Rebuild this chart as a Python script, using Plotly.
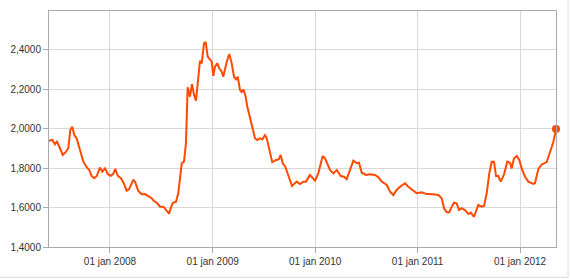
import pandas as pd
import plotly.graph_objects as go

# time as decimal years, values of the series
years = [2007.405, 2007.437, 2007.463, 2007.483, 2007.512, 2007.539, 2007.571, 2007.593, 2007.613, 2007.632,
         2007.652, 2007.675, 2007.707, 2007.740, 2007.773, 2007.798, 2007.821, 2007.847, 2007.870, 2007.902,
         2007.925, 2007.951, 2007.978, 2008.007, 2008.032, 2008.052, 2008.075, 2008.107, 2008.134, 2008.163,
         2008.185, 2008.227, 2008.244, 2008.276, 2008.309, 2008.341, 2008.374, 2008.407, 2008.426, 2008.456,
         2008.488, 2008.520, 2008.553, 2008.576, 2008.600, 2008.615, 2008.644, 2008.666, 2008.700, 2008.722,
         2008.741, 2008.758, 2008.780, 2008.800, 2008.820, 2008.839, 2008.878, 2008.895, 2008.917, 2008.934,
         2008.953, 2008.976, 2008.992, 2009.008, 2009.024, 2009.047, 2009.066, 2009.090, 2009.105, 2009.139,
         2009.164, 2009.187, 2009.210, 2009.229, 2009.246, 2009.268, 2009.285, 2009.300, 2009.320, 2009.340,
         2009.366, 2009.388, 2009.415, 2009.437, 2009.463, 2009.486, 2009.512, 2009.529, 2009.551, 2009.568,
         2009.583, 2009.620, 2009.646, 2009.665, 2009.685, 2009.710, 2009.740, 2009.776, 2009.821, 2009.854,
         2009.886, 2009.912, 2009.951, 2010.000, 2010.032, 2010.075, 2010.098, 2010.146, 2010.179, 2010.212,
         2010.251, 2010.283, 2010.309, 2010.341, 2010.374, 2010.407, 2010.429, 2010.456, 2010.498, 2010.537,
         2010.585, 2010.618, 2010.651, 2010.700, 2010.732, 2010.764, 2010.797, 2010.829, 2010.878, 2010.910,
         2010.959, 2010.992, 2011.041, 2011.090, 2011.154, 2011.203, 2011.236, 2011.259, 2011.285, 2011.310,
         2011.334, 2011.356, 2011.382, 2011.405, 2011.431, 2011.463, 2011.496, 2011.519, 2011.551, 2011.578,
         2011.593, 2011.626, 2011.649, 2011.675, 2011.700, 2011.724, 2011.746, 2011.766, 2011.788, 2011.812,
         2011.844, 2011.876, 2011.902, 2011.919, 2011.941, 2011.968, 2011.993, 2012.016, 2012.049, 2012.081,
         2012.130, 2012.146, 2012.179, 2012.212, 2012.260, 2012.293, 2012.325, 2012.351]

values = [1.938, 1.942, 1.920, 1.933, 1.900, 1.866, 1.883, 1.900, 1.992, 2.009,
          1.967, 1.950, 1.891, 1.832, 1.804, 1.790, 1.759, 1.748, 1.759, 1.802,
          1.781, 1.798, 1.770, 1.761, 1.770, 1.796, 1.761, 1.748, 1.723, 1.685,
          1.692, 1.739, 1.731, 1.684, 1.667, 1.668, 1.658, 1.647, 1.634, 1.624,
          1.604, 1.604, 1.584, 1.569, 1.608, 1.624, 1.629, 1.672, 1.824, 1.832,
          1.925, 2.209, 2.161, 2.225, 2.170, 2.141, 2.343, 2.330, 2.431, 2.438,
          2.364, 2.347, 2.338, 2.267, 2.313, 2.330, 2.305, 2.288, 2.262, 2.338,
          2.377, 2.330, 2.262, 2.249, 2.262, 2.195, 2.185, 2.198, 2.170, 2.110,
          2.057, 2.009, 1.950, 1.942, 1.950, 1.945, 1.966, 1.950, 1.900, 1.874,
          1.829, 1.841, 1.844, 1.866, 1.824, 1.807, 1.765, 1.709, 1.731, 1.719,
          1.731, 1.731, 1.765, 1.736, 1.773, 1.861, 1.849, 1.790, 1.773, 1.790,
          1.759, 1.756, 1.743, 1.793, 1.837, 1.824, 1.827, 1.776, 1.765, 1.768,
          1.765, 1.753, 1.731, 1.714, 1.680, 1.663, 1.689, 1.705, 1.723, 1.705,
          1.685, 1.672, 1.677, 1.668, 1.667, 1.663, 1.647, 1.596, 1.576, 1.576,
          1.604, 1.624, 1.621, 1.587, 1.596, 1.587, 1.567, 1.574, 1.553, 1.587,
          1.613, 1.604, 1.608, 1.672, 1.773, 1.832, 1.832, 1.759, 1.759, 1.731,
          1.768, 1.832, 1.827, 1.798, 1.849, 1.861, 1.841, 1.798, 1.756, 1.731,
          1.719, 1.723, 1.795, 1.818, 1.830, 1.881, 1.932, 1.997]

x_tick_dates = ["2008-01-01", "2009-01-01", "2010-01-01", "2011-01-01", "2012-01-01"]
x_tick_labels = ["01 jan 2008", "01 jan 2009", "01 jan 2010", "01 jan 2011", "01 jan 2012"]
y_tick_vals = [1.4, 1.6, 1.8, 2.0, 2.2, 2.4]
y_tick_labels = ["1,4000", "1,6000", "1,8000", "2,0000", "2,2000", "2,4000"]
x_range_years = [2007.405, 2012.351]
y_range = [1.4, 2.595]

base = pd.Timestamp("2008-01-01")
def to_date(yr):
    return base + pd.to_timedelta((yr - 2008) * 365.25, unit="D")

dates = [to_date(y) for y in years]

color = "#ff4a00"
fig = go.Figure()
fig.add_trace(go.Scatter(x=dates, y=values, mode="lines",
                         line=dict(color=color, width=2), hoverinfo="skip"))
fig.add_trace(go.Scatter(x=[dates[-1]], y=[values[-1]], mode="markers",
                         marker=dict(color=color, size=8), cliponaxis=False, hoverinfo="skip"))

fig.update_layout(
    width=570, height=279,
    margin=dict(l=49, r=14, t=11, b=32),
    paper_bgcolor="white", plot_bgcolor="white",
    showlegend=False,
    font=dict(family="Liberation Sans, Arial, sans-serif", size=10, color="#333333"),
    xaxis=dict(
        type="date",
        range=[to_date(x_range_years[0]), to_date(x_range_years[1])],
        tickvals=x_tick_dates, ticktext=x_tick_labels,
        showgrid=True, gridcolor="#d8d8d8", gridwidth=1,
        showline=True, linecolor="#aaaaaa", linewidth=1, mirror=True,
        ticks="outside", ticklen=5, tickcolor="#aaaaaa",
        zeroline=False,
    ),
    yaxis=dict(
        range=y_range,
        tickvals=y_tick_vals, ticktext=y_tick_labels,
        showgrid=True, gridcolor="#d8d8d8", gridwidth=1,
        showline=True, linecolor="#aaaaaa", linewidth=1, mirror=True,
        ticks="outside", ticklen=5, tickcolor="#aaaaaa",
        zeroline=False,
    ),
    shapes=[
        dict(type="line", xref="paper", yref="paper", x0=-0.1, x1=1.0237, y0=-0.1285, y1=-0.1285,
             line=dict(color="#dddddd", width=1)),
        dict(type="line", xref="paper", yref="paper", x0=1.0237, x1=1.0237, y0=-0.1285, y1=1.1,
             line=dict(color="#dddddd", width=1)),
    ],
)

fig.write_html("out.html")
